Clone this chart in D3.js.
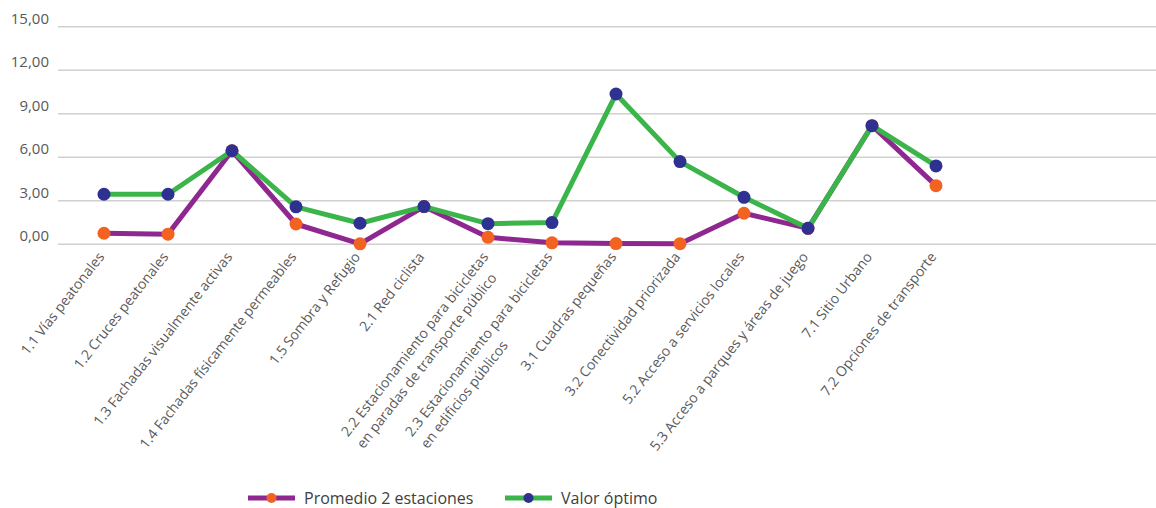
<!DOCTYPE html>
<html>
<head>
<meta charset="utf-8">
<script src="https://cdn.jsdelivr.net/npm/d3@7"></script>
<style>
  body { margin: 0; background: #fff; }
  svg { display: block; font-family: 'Open Sans', 'Noto Sans', sans-serif; }
</style>
</head>
<body>
<script>
const categories = [
  '1.1 Vías peatonales',
  '1.2 Cruces peatonales',
  '1.3 Fachadas visualmente activas',
  '1.4 Fachadas físicamente permeables',
  '1.5 Sombra y Refugio',
  '2.1 Red ciclista',
  '2.2 Estacionamiento para bicicletas\nen paradas de transporte público',
  '2.3 Estacionamiento para bicicletas\nen edificios públicos',
  '3.1 Cuadras pequeñas',
  '3.2 Conectividad priorizada',
  '5.2 Acceso a servicios locales',
  '5.3 Acceso a parques y áreas de juego',
  '7.1 Sitio Urbano',
  '7.2 Opciones de transporte'
]

const promedio = [0.76, 0.7, 6.45, 1.4, 0.03, 2.6, 0.48, 0.1, 0.05, 0.04, 2.14, 1.1, 8.18, 4.04]
const optimo = [3.45, 3.45, 6.45, 2.58, 1.45, 2.6, 1.42, 1.5, 10.36, 5.7, 3.24, 1.1, 8.18, 5.4]

const yTicks = [0, 3, 6, 9, 12, 15]

const series = [
  { name: 'Promedio 2 estaciones', values: promedio, line: '#8e278f', dot: '#f26322' },
  { name: 'Valor óptimo', values: optimo, line: '#3bb54a', dot: '#2e3192' }
]

const width = 1156
const height = 508

const svg = d3.select('body').append('svg')
  .attr('width', width)
  .attr('height', height)

const x = d3.scalePoint()
  .domain(categories)
  .range([104, 936])

const y = d3.scaleLinear()
  .domain([0, 15])
  .range([244.3, 26.7])

// gridlines
svg.append('g')
  .selectAll('line')
  .data(yTicks)
  .enter()
  .append('line')
  .attr('x1', 58)
  .attr('x2', width)
  .attr('y1', d => y(d))
  .attr('y2', d => y(d))
  .attr('stroke', '#d0d0d0')
  .attr('stroke-width', 1.5)

// y tick labels
svg.append('g')
  .selectAll('text')
  .data(yTicks)
  .enter()
  .append('text')
  .attr('x', 49)
  .attr('y', d => y(d) - 3)
  .attr('text-anchor', 'end')
  .attr('font-size', 15)
  .attr('fill', '#595959')
  .text(d => d3.format('.2f')(d).replace('.', ','))

// x labels, rotated, lines left aligned under the first one
const xLabels = svg.append('g')
  .selectAll('g')
  .data(categories)
  .enter()
  .append('g')
  .attr('transform', d => 'translate(' + (x(d) + 1) + ',257) rotate(-52)')

xLabels.each(function (d) {
  const g = d3.select(this)
  const lines = d.split('\n')
  const first = g.append('text')
    .attr('text-anchor', 'end')
    .attr('font-size', 14)
    .attr('fill', '#595959')
    .text(lines[0])
  const len = first.node().getComputedTextLength()
  lines.slice(1).forEach((l, i) => {
    g.append('text')
      .attr('x', -len)
      .attr('y', 19.5 * (i + 1))
      .attr('text-anchor', 'start')
      .attr('font-size', 14)
      .attr('fill', '#595959')
      .text(l)
  })
})

const line = d3.line()
  .x((d, i) => x(categories[i]))
  .y(d => y(d))

series.forEach(s => {
  svg.append('path')
    .datum(s.values)
    .attr('fill', 'none')
    .attr('stroke', s.line)
    .attr('stroke-width', 5)
    .attr('stroke-linejoin', 'round')
    .attr('d', line)

  svg.append('g')
    .selectAll('circle')
    .data(s.values)
    .enter()
    .append('circle')
    .attr('cx', (d, i) => x(categories[i]))
    .attr('cy', d => y(d))
    .attr('r', 6.5)
    .attr('fill', s.dot)
})

// legend
const legendX = [248, 505]
const legend = svg.append('g')
  .selectAll('g')
  .data(series)
  .enter()
  .append('g')
  .attr('transform', (d, i) => 'translate(' + legendX[i] + ',498)')

legend.append('line')
  .attr('x1', 0)
  .attr('x2', 47)
  .attr('stroke', d => d.line)
  .attr('stroke-width', 5)

legend.append('circle')
  .attr('cx', 23.5)
  .attr('r', 5)
  .attr('fill', d => d.dot)

legend.append('text')
  .attr('x', 56)
  .attr('y', 5.5)
  .attr('font-size', 16)
  .attr('fill', '#404040')
  .text(d => d.name)
</script>
</body>
</html>
